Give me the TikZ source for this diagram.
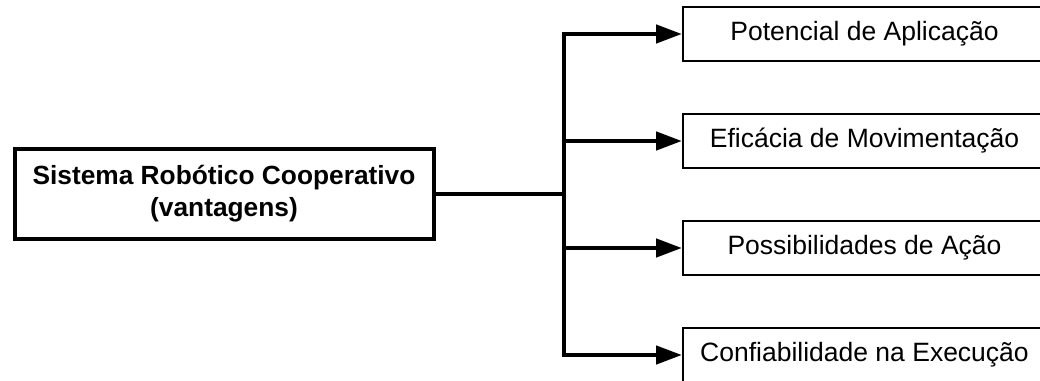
\documentclass[tikz,border=0pt]{standalone}
\usepackage{fontspec}
\setmainfont{Liberation Sans}
\usetikzlibrary{arrows.meta}
\begin{document}
\begin{tikzpicture}[x=1pt,y=-1pt,
  mainbox/.style={draw, line width=4pt, minimum width=419pt, minimum height=90pt,
    align=center, inner sep=0pt, font=\fontsize{26.3}{32}\selectfont\bfseries},
  itembox/.style={draw, line width=2pt, fill=white, anchor=west, minimum width=363pt,
    minimum height=54pt, inner sep=0pt, font=\fontsize{26.5}{31}\selectfont},
  link/.style={line width=4.5pt},
  feed/.style={line width=4.5pt, -{Triangle[length=26pt,width=18pt]}}]
  \useasboundingbox (0,0) rectangle (1040,380);
  \clip (0,0) rectangle (1040,380);

  % source box
  \node[mainbox] (main) at (224,194) {Sistema Robótico Cooperativo\\(vantagens)};

  % branch targets
  \node[itembox] (p1) at (682,34)  {Potencial de Aplicação};
  \node[itembox] (p2) at (682,141) {Eficácia de Movimentação};
  \node[itembox] (p3) at (682,248) {Possibilidades de Ação};
  \node[itembox] (p4) at (682,355) {Confiabilidade na Execução};

  % junction on the vertical bus
  \coordinate (j) at (564,194);

  \draw[link] (main.east) -- (main.east -| j);
  \draw[link, line cap=rect] (j |- p1.west) -- (j |- p4.west);
  \foreach \t in {p1,p2,p3,p4}
    \draw[feed] (j |- \t.west) -- (\t.west);
\end{tikzpicture}
\end{document}
